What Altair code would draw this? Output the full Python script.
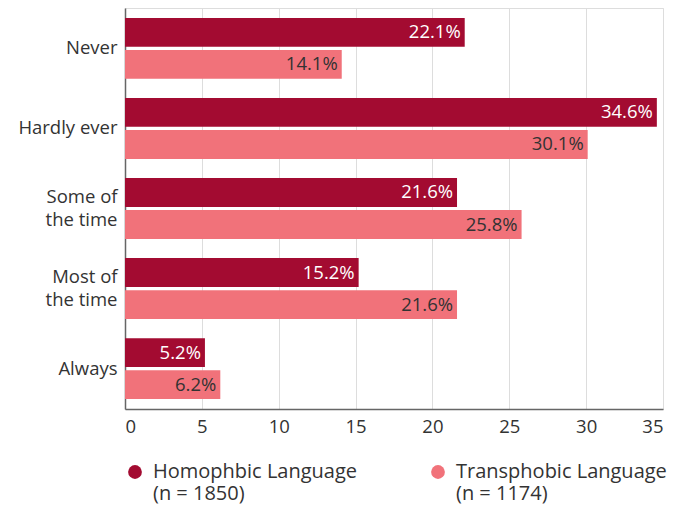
import altair as alt
import pandas as pd

categories = ["Never", "Hardly ever", "Some of|the time", "Most of|the time", "Always"]
series = ["Homophbic Language|(n = 1850)", "Transphobic Language|(n = 1174)"]
homophobic = [22.1, 34.6, 21.6, 15.2, 5.2]
transphobic = [14.1, 30.1, 25.8, 21.6, 6.2]
colors = ["#A30B31", "#F1727A"]
label_colors = ["#FFFFFF", "#333333"]

rows = []
for i, c in enumerate(categories):
    rows.append({"cat": c, "series": series[0], "value": homophobic[i]})
    rows.append({"cat": c, "series": series[1], "value": transphobic[i]})
df = pd.DataFrame(rows)
df["label"] = df["value"].map(lambda v: f"{v:.1f}%")

FONT = "Open Sans"

y = alt.Y("cat:N", sort=categories, title=None,
          scale=alt.Scale(paddingInner=0.24, paddingOuter=0.125),
          axis=alt.Axis(labelExpr="split(datum.label, '|')", labelFontSize=18.5,
                        labelColor="#333333", ticks=False, domainColor="#666666",
                        domainWidth=1.5, labelPadding=8, labelFont=FONT,
                        labelLineHeight=23,
                        labelOffset={"condition": {"test": "indexof(datum.label, '|') >= 0",
                                                   "value": -11.5}, "value": 0}))
yoff = alt.YOffset("series:N", sort=series, scale=alt.Scale(paddingInner=0.1))

bars = alt.Chart(df).mark_bar().encode(
    x=alt.X("value:Q", title=None,
            scale=alt.Scale(domain=[0, 35], nice=False),
            axis=alt.Axis(values=[0, 5, 10, 15, 20, 25, 30, 35], labelFontSize=18.5,
                          labelColor="#333333", ticks=False, domainColor="#666666",
                          domainWidth=1.5, gridColor="#DDDDDD", labelPadding=8,
                          labelFont=FONT)),
    y=y,
    yOffset=yoff,
    color=alt.Color("series:N", sort=series, title=None,
                    scale=alt.Scale(domain=series, range=colors),
                    legend=alt.Legend(orient="bottom", direction="horizontal", columns=2,
                                      symbolType="circle", symbolSize=190,
                                      symbolStrokeWidth=0, labelFontSize=20,
                                      labelColor="#333333", labelFont=FONT,
                                      labelExpr="split(datum.label, '|')",
                                      labelLimit=400, columnPadding=70,
                                      offset=26, labelOffset=8, padding=0)),
)

text = alt.Chart(df).mark_text(align="right", baseline="middle", dx=-4, fontSize=18.5,
                               font=FONT).encode(
    x="value:Q",
    y=alt.Y("cat:N", sort=categories),
    yOffset=yoff,
    text="label:N",
    color=alt.Color("series:N", sort=series,
                    scale=alt.Scale(domain=series, range=label_colors), legend=None),
)

chart = alt.layer(bars, text).resolve_scale(color="independent").properties(
    width=538, height=401
).configure_view(stroke=None).configure(padding={"left": 9, "top": 0, "right": 0, "bottom": 0})

chart.save("out.html", embed_options={"renderer": "svg", "actions": False})
